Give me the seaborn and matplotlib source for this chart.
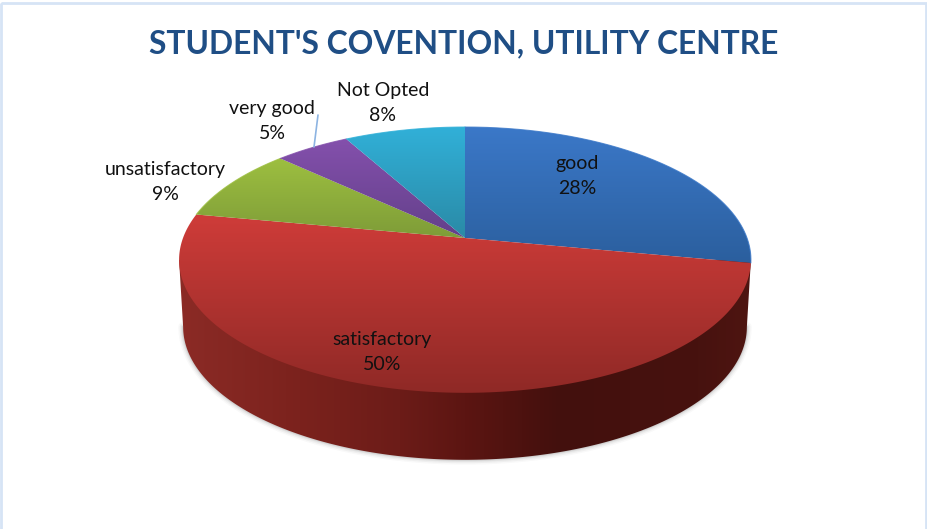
import numpy as np
import seaborn as sns
import matplotlib
matplotlib.use("Agg")
import matplotlib.pyplot as plt
from matplotlib.colors import LinearSegmentedColormap
from matplotlib.patches import Polygon, Rectangle

# values, clockwise from 12 o'clock
labels = ["good", "satisfactory", "unsatisfactory", "very good", "Not Opted"]
values = [28, 50, 9, 5, 8]
top_colors = ["#3b78c8", "#cf3c39", "#9dbf40", "#8450ac", "#31b0d8"]
low_colors = ["#2b5f9e", "#8f2926", "#7e9c38", "#63408a", "#2a8aa6"]
label_pos = [(577, 176), (382, 352), (165, 182), (272, 121), (383, 103)]

sns.set_theme(style="white")
plt.rcParams["font.family"] = ["Lato", "DejaVu Sans"]

W, H = 928, 529
APEX = (465.0, 238.0)
fig = plt.figure(figsize=(W / 100, H / 100), dpi=100)
ax = fig.add_axes([0, 0, 1, 1])


# pie is a tilted disc: project unit circle with some perspective
def project(theta, a=282.0, b=90.0, k=0.165, dy=0.0):
    x, y = np.sin(theta), np.cos(theta)
    d = 1 + k * y
    return APEX[0] + a * x / d, (APEX[1] - b * y) / d + dy


def project_low(theta):
    return project(theta, a=278.0, dy=67.0)


def clipped_gradient(pts, img, cmap, extent, z):
    im = ax.imshow(img, cmap=cmap, aspect="auto", extent=extent, zorder=z,
                   interpolation="bilinear", vmin=0, vmax=1)
    poly = Polygon(pts, closed=True, transform=ax.transData, fc="none", ec="none")
    ax.add_patch(poly)
    im.set_clip_path(poly)


# frame of the slide
ax.add_patch(Rectangle((1.5, 2.5), 924.5, 540, fill=False, ec="#d6e4f5", lw=2))

# side wall, from one side of the disc to the other
tt = np.radians(np.linspace(99.5, 260.5, 400))
xl, yl = project_low(tt)
x_left, y_left = project(tt[-1])
x_right, y_right = project(tt[0])

# soft shadow under the wall
for lw, al in [(7, 0.03), (5, 0.05), (3, 0.07), (1.5, 0.10)]:
    ax.plot(xl, yl, color="#404040", lw=lw, alpha=al, solid_capstyle="round", zorder=1)

wall_x = [175, 300, 400, 465, 560, 700, 755]
wall_c = ["#8c2b26", "#7b221d", "#6c1c18", "#5c1512", "#43100d", "#47120f", "#4f1511"]
wall_cmap = LinearSegmentedColormap.from_list(
    "wall", [((x - 175) / 580, c) for x, c in zip(wall_x, wall_c)])
wall_pts = np.column_stack([np.r_[xl, x_left, x_right], np.r_[yl, y_left, y_right]])
clipped_gradient(wall_pts, np.linspace(0, 1, 512).reshape(1, -1), wall_cmap, (175, 755, 470, 250), 2)

# top face
edges = np.cumsum([0] + values) / sum(values) * 2 * np.pi
for i, lab in enumerate(labels):
    th = np.linspace(edges[i], edges[i + 1], 200)
    px, py = project(th)
    pts = np.column_stack([np.r_[APEX[0], px], np.r_[APEX[1], py]])
    y0, y1 = min(py.min(), APEX[1]), max(py.max(), APEX[1])
    grad = LinearSegmentedColormap.from_list(lab, [top_colors[i], low_colors[i]])
    clipped_gradient(pts, np.linspace(0, 1, 256).reshape(-1, 1), grad, (150, 780, y1, y0), 3)
    # smooth the outer rim of the back slices
    if lab != "satisfactory":
        ax.plot(px, py, color=top_colors[i], lw=0.8, alpha=0.8, zorder=3.5)

# labels
for lab, v, (lx, ly) in zip(labels, values, label_pos):
    ax.text(lx, ly, f"{lab}\n{v}%", ha="center", va="center", fontsize=14,
            color="#111111", linespacing=1.55, zorder=5)
ax.plot([318, 314], [115, 147], color="#8db4e2", lw=1.2, zorder=4)

ax.text(463.5, 43.5, "STUDENT'S COVENTION, UTILITY CENTRE", ha="center", va="center",
        fontsize=22.9, fontweight="bold", color="#1f4e85", zorder=5)

ax.set_xlim(0, W)
ax.set_ylim(H, 0)
ax.axis("off")
fig.savefig("out.png", dpi=100, facecolor="white")
